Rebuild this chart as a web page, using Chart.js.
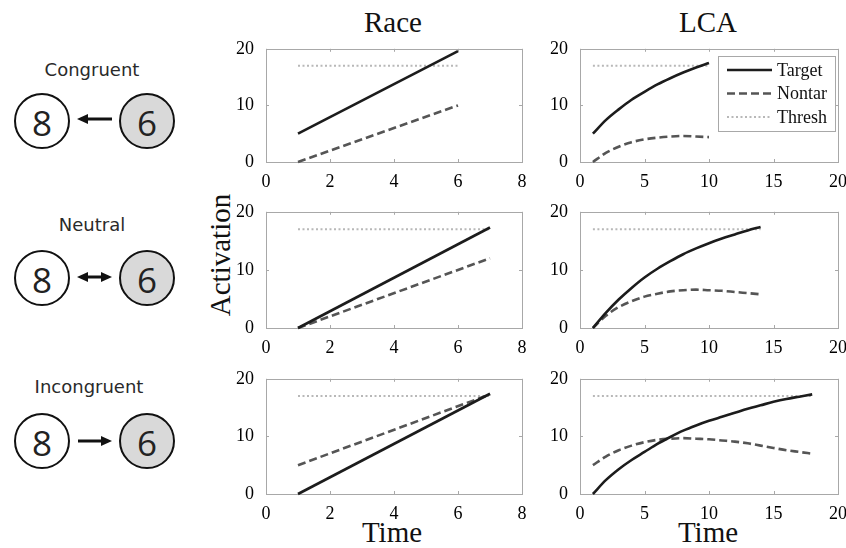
<!DOCTYPE html>
<html>
<head>
<meta charset="utf-8">
<title>Race vs LCA activation</title>
<script src="https://cdn.jsdelivr.net/npm/chart.js@4.4.1/dist/chart.umd.min.js"></script>
<style>
    html, body { margin: 0; padding: 0; background: #fff; overflow: hidden; }
    #stage { position: relative; width: 846px; height: 548px; overflow: hidden; }
    #stage canvas { position: absolute; }
    .serif {
        position: absolute;
        font-family: "Liberation Serif", "Times New Roman", serif;
        font-size: 29px;
        line-height: 1;
        color: #111;
        white-space: nowrap;
    }
    #conditions { position: absolute; left: 0; top: 0; }
</style>
</head>
<body>
<div id="stage">
    <svg id="conditions" width="200" height="548">
        <g font-family="DejaVu Sans, sans-serif" fill="#2a2a2a" text-anchor="middle">
            <text x="92" y="76" font-size="18">Congruent</text>
            <text x="92" y="231" font-size="18">Neutral</text>
            <text x="89" y="393" font-size="18">Incongruent</text>
        </g>
        <!-- Congruent: 8 <- 6 -->
        <circle cx="42" cy="121" r="27" fill="#fff" stroke="#111" stroke-width="2"/>
        <circle cx="147" cy="121" r="27" fill="#d9d9d9" stroke="#111" stroke-width="2"/>
        <line x1="85" y1="119" x2="112" y2="119" stroke="#111" stroke-width="3"/>
        <polygon points="77,119 88,114 88,124" fill="#111"/>
        <!-- Neutral: 8 <-> 6 -->
        <circle cx="42" cy="278" r="27" fill="#fff" stroke="#111" stroke-width="2"/>
        <circle cx="147" cy="278" r="27" fill="#d9d9d9" stroke="#111" stroke-width="2"/>
        <line x1="85" y1="277" x2="104" y2="277" stroke="#111" stroke-width="3"/>
        <polygon points="77,277 88,272 88,282" fill="#111"/>
        <polygon points="112,277 101,272 101,282" fill="#111"/>
        <!-- Incongruent: 8 -> 6 -->
        <circle cx="42" cy="441" r="27" fill="#fff" stroke="#111" stroke-width="2"/>
        <circle cx="147" cy="441" r="27" fill="#d9d9d9" stroke="#111" stroke-width="2"/>
        <line x1="78" y1="441" x2="104" y2="441" stroke="#111" stroke-width="3"/>
        <polygon points="112,441 101,436 101,446" fill="#111"/>
        <g font-family="Open Sans, Noto Sans, sans-serif" font-size="35" fill="#222" text-anchor="middle" dominant-baseline="central">
            <text x="42" y="122">8</text>
            <text x="147" y="122">6</text>
            <text x="42" y="279">8</text>
            <text x="147" y="279">6</text>
            <text x="42" y="442">8</text>
            <text x="147" y="442">6</text>
        </g>
    </svg>

    <div class="serif" style="left:393px; top:8px; transform:translateX(-50%);">Race</div>
    <div class="serif" style="left:708px; top:8px; transform:translateX(-50%);">LCA</div>
    <div class="serif" style="left:392px; top:518px; transform:translateX(-50%);">Time</div>
    <div class="serif" style="left:708px; top:518px; transform:translateX(-50%);">Time</div>
    <div class="serif" style="left:220px; top:255px; transform:translate(-50%, -50%) rotate(-90deg);">Activation</div>

    <canvas id="race-cong"></canvas>
    <canvas id="lca-cong"></canvas>
    <canvas id="race-neut"></canvas>
    <canvas id="lca-neut"></canvas>
    <canvas id="race-incong"></canvas>
    <canvas id="lca-incong"></canvas>
</div>

<script>
// Series names
const seriesLabels = ['Target', 'Nontar', 'Thresh'];

// Tick labels
const raceTicks = [0, 2, 4, 6, 8];
const lcaTicks = [0, 5, 10, 15, 20];
const activationTicks = [0, 10, 20];

// Response threshold (drawn from first to last time step)
const threshold = [17, 17];

// Race model: linear accumulators
const raceCongTime = [1, 6];
const raceCongTarget = [5, 19.6];
const raceCongNontar = [0, 10];

const raceNeutTime = [1, 7];
const raceNeutTarget = [0, 17.3];
const raceNeutNontar = [0, 12];

const raceIncongTime = [1, 7];
const raceIncongTarget = [0, 17.4];
const raceIncongNontar = [5, 17.3];

// LCA model: leaky competing accumulators
const lcaCongTime = [1, 2, 3, 4, 5, 6, 7, 8, 9, 10];
const lcaCongTarget = [5, 7.4, 9.3, 11.0, 12.4, 13.7, 14.8, 15.8, 16.7, 17.5];
const lcaCongNontar = [0, 1.6, 2.7, 3.5, 4.0, 4.3, 4.5, 4.6, 4.5, 4.4];

const lcaNeutTime = [1, 2, 3, 4, 5, 6, 7, 8, 9, 10, 11, 12, 13, 14];
const lcaNeutTarget = [0, 2.6, 4.9, 6.9, 8.7, 10.2, 11.5, 12.7, 13.7, 14.6, 15.4, 16.1, 16.8, 17.4];
const lcaNeutNontar = [0, 2.1, 3.6, 4.6, 5.4, 5.9, 6.3, 6.5, 6.6, 6.5, 6.4, 6.2, 6.0, 5.8];

const lcaIncongTime = [1, 2, 3, 4, 5, 6, 7, 8, 9, 10, 11, 12, 13, 14, 15, 16, 17, 18];
const lcaIncongTarget = [0, 2.4, 4.3, 5.9, 7.3, 8.7, 9.9, 11.0, 11.9, 12.7, 13.4, 14.1, 14.8, 15.4, 16.0, 16.5, 16.9, 17.3];
const lcaIncongNontar = [5, 6.5, 7.6, 8.4, 9.0, 9.4, 9.6, 9.7, 9.6, 9.5, 9.3, 9.1, 8.8, 8.4, 8.0, 7.6, 7.3, 7.0];

// Space around each plot area inside its canvas
const PAD_LEFT = 40, PAD_TOP = 10, PAD_RIGHT = 10, PAD_BOTTOM = 30;
const FRAME_COLOR = '#a8a8a8';
const TICK_FONT = { family: '"Liberation Serif", "Times New Roman", serif', size: 18 };

// Box outline with short inward ticks on all four sides
const framePlugin = {
    id: 'panelFrame',
    beforeDatasetsDraw(chart) {
        const { ctx, chartArea: a, scales } = chart;
        ctx.save();
        ctx.strokeStyle = FRAME_COLOR;
        ctx.lineWidth = 1;
        ctx.strokeRect(Math.round(a.left) + 0.5, Math.round(a.top) + 0.5,
            Math.round(a.right - a.left), Math.round(a.bottom - a.top));
        ctx.beginPath();
        scales.x.ticks.forEach(t => {
            const px = Math.round(scales.x.getPixelForValue(t.value)) + 0.5;
            ctx.moveTo(px, a.bottom); ctx.lineTo(px, a.bottom - 3);
            ctx.moveTo(px, a.top); ctx.lineTo(px, a.top + 3);
        });
        scales.y.ticks.forEach(t => {
            const py = Math.round(scales.y.getPixelForValue(t.value)) + 0.5;
            ctx.moveTo(a.left, py); ctx.lineTo(a.left + 3, py);
            ctx.moveTo(a.right, py); ctx.lineTo(a.right - 3, py);
        });
        ctx.stroke();
        ctx.restore();
    }
};

// Boxed legend in the upper right corner of the plot
const legendPlugin = {
    id: 'panelLegend',
    afterDraw(chart) {
        const { ctx, chartArea: a } = chart;
        const x = Math.round(a.right) - 120, y = Math.round(a.top) + 7, w = 117, h = 75;
        ctx.save();
        ctx.fillStyle = '#fff';
        ctx.fillRect(x, y, w, h);
        ctx.strokeStyle = FRAME_COLOR;
        ctx.lineWidth = 1;
        ctx.strokeRect(x + 0.5, y + 0.5, w, h);
        ctx.font = '18px "Liberation Serif", "Times New Roman", serif';
        ctx.textBaseline = 'middle';
        chart.data.datasets.forEach((ds, i) => {
            const rowY = y + 14 + i * 23.5;
            ctx.beginPath();
            ctx.setLineDash(ds.borderDash || []);
            ctx.strokeStyle = ds.borderColor;
            ctx.lineWidth = ds.borderWidth;
            ctx.moveTo(x + 9, rowY);
            ctx.lineTo(x + 54, rowY);
            ctx.stroke();
            ctx.setLineDash([]);
            ctx.fillStyle = '#111';
            ctx.fillText(ds.label, x + 59, rowY + 1);
        });
        ctx.restore();
    }
};

function toPoints(xs, ys) {
    return xs.map((x, i) => ({ x: x, y: ys[i] }));
}

function makePanel(id, box, xTicks, time, target, nontar, withLegend) {
    const canvas = document.getElementById(id);
    canvas.width = box[2] + PAD_LEFT + PAD_RIGHT;
    canvas.height = box[3] + PAD_TOP + PAD_BOTTOM;
    canvas.style.left = (box[0] - PAD_LEFT) + 'px';
    canvas.style.top = (box[1] - PAD_TOP) + 'px';

    const curved = time.length > 2;
    const ends = [time[0], time[time.length - 1]];

    return new Chart(canvas.getContext('2d'), {
        type: 'line',
        data: {
            datasets: [
                {
                    label: seriesLabels[0],
                    data: toPoints(time, target),
                    borderColor: '#1c1c1c',
                    borderWidth: 2.6,
                    cubicInterpolationMode: curved ? 'monotone' : 'default',
                    clip: 6
                },
                {
                    label: seriesLabels[1],
                    data: toPoints(time, nontar),
                    borderColor: '#555555',
                    borderWidth: 2.6,
                    borderDash: [8, 4],
                    cubicInterpolationMode: curved ? 'monotone' : 'default',
                    clip: 6
                },
                {
                    label: seriesLabels[2],
                    data: toPoints(ends, threshold),
                    borderColor: '#b8b8b8',
                    borderWidth: 2,
                    borderDash: [2, 2.5],
                    clip: 6
                }
            ]
        },
        options: {
            responsive: false,
            animation: false,
            devicePixelRatio: 1,
            layout: { padding: { left: 0, top: PAD_TOP, right: PAD_RIGHT, bottom: 0 } },
            elements: { point: { radius: 0 }, line: { tension: 0 } },
            plugins: { legend: { display: false }, tooltip: { enabled: false } },
            scales: {
                x: {
                    type: 'linear',
                    min: xTicks[0],
                    max: xTicks[xTicks.length - 1],
                    grid: { display: false },
                    border: { display: false },
                    ticks: {
                        stepSize: xTicks[1] - xTicks[0],
                        color: '#000',
                        font: TICK_FONT,
                        padding: 1,
                        maxRotation: 0
                    },
                    afterFit: (scale) => { scale.height = PAD_BOTTOM; }
                },
                y: {
                    min: activationTicks[0],
                    max: activationTicks[activationTicks.length - 1],
                    grid: { display: false },
                    border: { display: false },
                    ticks: {
                        stepSize: activationTicks[1] - activationTicks[0],
                        color: '#000',
                        font: TICK_FONT,
                        padding: 4
                    },
                    afterFit: (scale) => { scale.width = PAD_LEFT; }
                }
            }
        },
        plugins: withLegend ? [framePlugin, legendPlugin] : [framePlugin]
    });
}

document.addEventListener('DOMContentLoaded', () => {
    makePanel('race-cong', [266, 44, 256, 118], raceTicks, raceCongTime, raceCongTarget, raceCongNontar, false);
    makePanel('lca-cong', [580, 44, 258, 118], lcaTicks, lcaCongTime, lcaCongTarget, lcaCongNontar, true);
    makePanel('race-neut', [266, 207, 256, 121], raceTicks, raceNeutTime, raceNeutTarget, raceNeutNontar, false);
    makePanel('lca-neut', [580, 207, 258, 121], lcaTicks, lcaNeutTime, lcaNeutTarget, lcaNeutNontar, false);
    makePanel('race-incong', [266, 374, 256, 120], raceTicks, raceIncongTime, raceIncongTarget, raceIncongNontar, false);
    makePanel('lca-incong', [580, 374, 258, 120], lcaTicks, lcaIncongTime, lcaIncongTarget, lcaIncongNontar, false);
});
</script>
</body>
</html>
